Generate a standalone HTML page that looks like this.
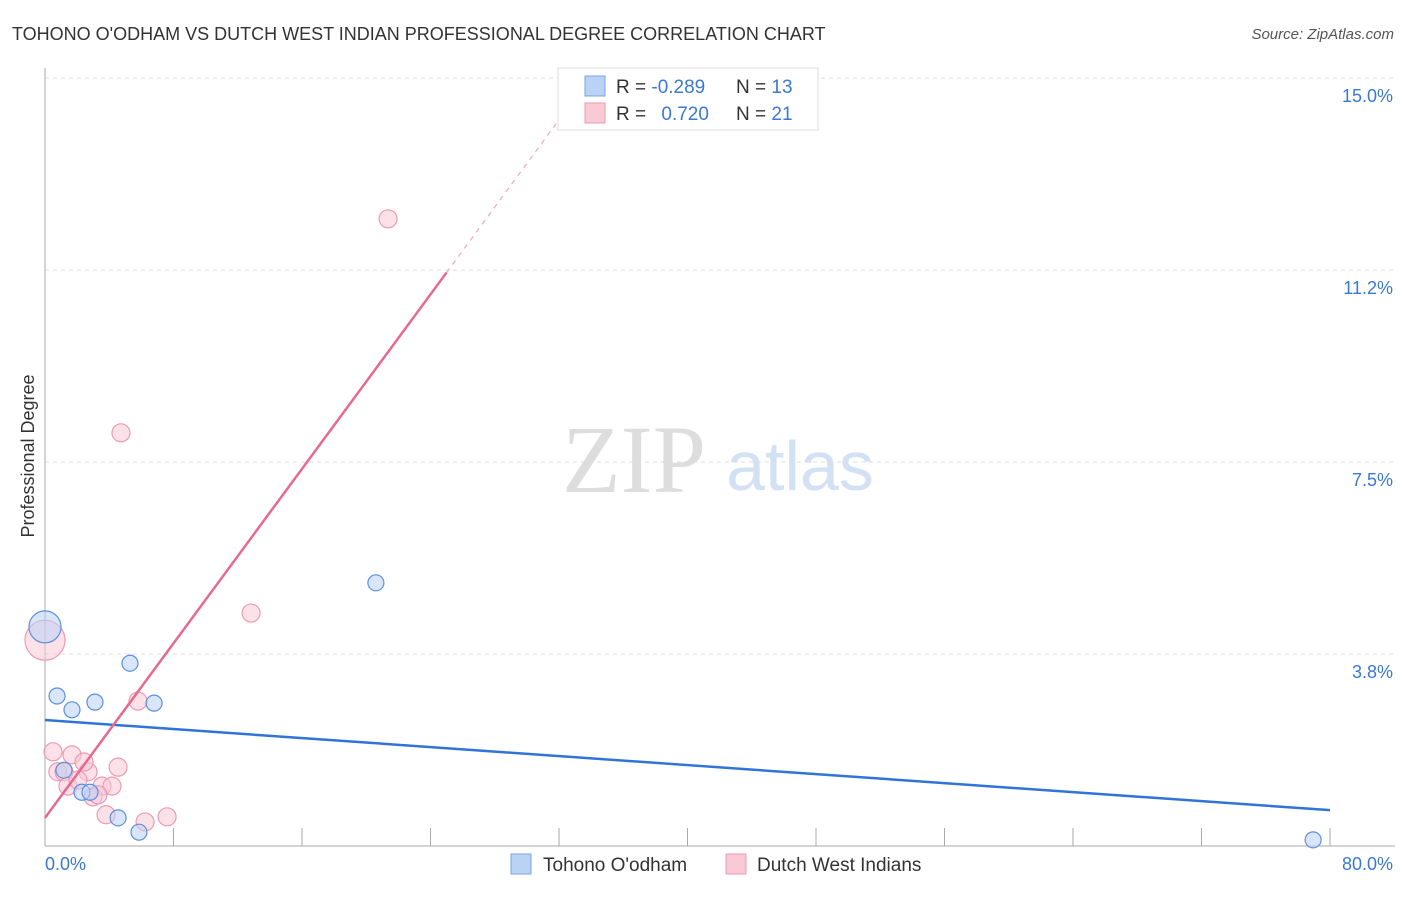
<!DOCTYPE html>
<html><head><meta charset="utf-8"><style>
body{margin:0;background:#fff;font-family:"Liberation Sans",sans-serif}
</style></head><body>
<svg width="1406" height="892" xmlns="http://www.w3.org/2000/svg" id="svg">
<text x="12" y="40" font-size="18" fill="#333">TOHONO O'ODHAM VS DUTCH WEST INDIAN PROFESSIONAL DEGREE CORRELATION CHART</text>
<text x="1394" y="39" font-size="15" fill="#555" font-style="italic" text-anchor="end">Source: ZipAtlas.com</text>
<text x="634" y="492" font-size="96" fill="#ddd" font-family="Liberation Serif" text-anchor="middle">ZIP</text>
<text x="800" y="490" font-size="70" fill="#d3e1f5" text-anchor="middle">atlas</text>
<text transform="translate(34,456) rotate(-90)" font-size="18" fill="#333" text-anchor="middle">Professional Degree</text>
<g id="grid"></g><g id="marks"></g>
<text x="45" y="870" font-size="18" fill="#3a78d6">0.0%</text>
<text x="1393" y="870" font-size="18" fill="#3a78d6" text-anchor="end">80.0%</text>
<g>
<rect x="558" y="68" width="260" height="62" fill="#fff" stroke="#ddd"/>
<rect x="585" y="76" width="20" height="20" fill="#b9d2f5" stroke="#7aa4e0"/>
<rect x="585" y="103" width="20" height="20" fill="#f9c9d6" stroke="#ec9ab3"/>
<text x="616" y="93" font-size="19" fill="#333">R = <tspan fill="#3a78d6">-0.289</tspan></text>
<text x="736" y="93" font-size="19" fill="#333">N = <tspan fill="#3a78d6">13</tspan></text>
<text x="616" y="120" font-size="19" fill="#333">R = <tspan fill="#3a78d6" dx="10">0.720</tspan></text>
<text x="736" y="120" font-size="19" fill="#333">N = <tspan fill="#3a78d6">21</tspan></text>
</g>
<g>
<rect x="511" y="854" width="20" height="20" fill="#b9d2f5" stroke="#7aa4e0"/>
<text x="543" y="871" font-size="19" fill="#333">Tohono O'odham</text>
<rect x="726" y="854" width="20" height="20" fill="#f9c9d6" stroke="#ec9ab3"/>
<text x="757" y="871" font-size="19" fill="#333">Dutch West Indians</text>
</g>
</svg>
<script>
const yTicks=[3.75,7.5,11.25,15];
const yTickLabels=["3.8%","7.5%","11.2%","15.0%"];
const xTicks=[8,16,24,32,40,48,56,64,72,80];
const blueX=[0,0.75,1.68,3.11,5.29,6.79,1.18,2.30,2.80,4.55,5.85,20.6,78.95];
const blueY=[4.28,2.93,2.66,2.81,3.57,2.79,1.48,1.05,1.05,0.55,0.27,5.14,0.12];
const blueR=[16,8,8,8,8,8,8,8,8,8,8,8,8];
const pinkX=[0,0.5,1.68,0.8,1.18,2.68,1.43,2.05,3.55,4.17,4.55,2.99,3.30,3.80,6.23,7.6,5.79,12.83,21.36,4.73,2.43];
const pinkY=[4.02,1.84,1.78,1.45,1.45,1.45,1.17,1.29,1.17,1.17,1.54,0.96,1.0,0.61,0.47,0.57,2.83,4.55,12.25,8.07,1.64];
const pinkR=[20,9,9,9,9,9,9,9,9,9,9,9,9,9,9,9,9,9,9,9,9];
const blueTrend=[2.46,0.7];
const pinkTrend=[0.55,0.426];
const X=v=>45+v*1285/80, Y=v=>846-v*768/15;
const NS="http://www.w3.org/2000/svg";
function mk(p,t,a){const e=document.createElementNS(NS,t);for(const k in a)e.setAttribute(k,a[k]);p.appendChild(e);return e;}
const g=document.getElementById('grid'),m=document.getElementById('marks');
yTicks.forEach((t,i)=>{
 const l=mk(g,'line',{x1:45,x2:1395,y1:Y(t),y2:Y(t),stroke:'#ddd','stroke-dasharray':'4,4'});
 
 
 const tx=mk(g,'text',{x:1393,y:Y(t)+24,'font-size':18,fill:'#3a78d6','text-anchor':'end'});
 tx.textContent=yTickLabels[i];
 
 
});
const ax=mk(g,'line',{x1:45,x2:1395,y1:846,y2:846,stroke:'#aaa'});


const ay=mk(g,'line',{x1:45,x2:45,y1:68,y2:846,stroke:'#aaa'});


xTicks.forEach(t=>{
 const l=mk(g,'line',{x1:X(t),x2:X(t),y1:828,y2:846,stroke:'#aaa'});
 
 
});
function pts(xs,ys,rs,fill,stroke,name){xs.forEach((x,i)=>{
 const c=mk(m,'circle',{cx:X(x),cy:Y(ys[i]),r:rs[i],fill:fill,'fill-opacity':0.55,stroke:stroke,'stroke-width':1.2});
 
 
});}
pts(pinkX,pinkY,pinkR,'#f9c9d6','#ec9ab3','dutch-west-indians-point');
pts(blueX,blueY,blueR,'#b9d2f5','#5e8fdb','tohono-oodham-point');
const bl=mk(m,'line',{x1:X(0),y1:Y(blueTrend[0]),x2:X(80),y2:Y(blueTrend[1]),stroke:'#2f74d6','stroke-width':2.5});


const pe=25, pm=(15-pinkTrend[0])/pinkTrend[1];
const pl=mk(m,'line',{x1:X(0),y1:Y(pinkTrend[0]),x2:X(pe),y2:Y(pinkTrend[0]+pinkTrend[1]*pe),stroke:'#e8698f','stroke-width':2.5});


const pd=mk(m,'line',{x1:X(pe),y1:Y(pinkTrend[0]+pinkTrend[1]*pe),x2:X(pm),y2:Y(15),stroke:'#f0a6bc','stroke-width':1.2,'stroke-dasharray':'5,5'});


</script>
</body></html>
